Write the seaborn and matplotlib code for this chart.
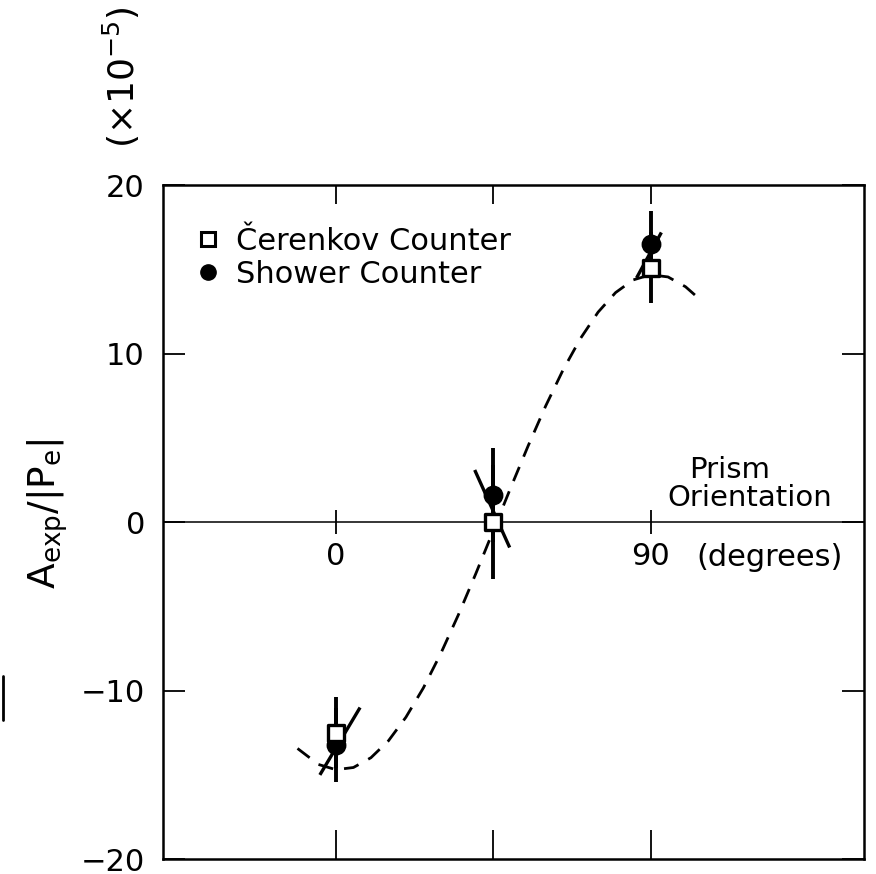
import matplotlib
matplotlib.use("Agg")
import matplotlib.pyplot as plt
from matplotlib.lines import Line2D
import seaborn as sns

# prism orientation (degrees) of the three runs
angles = [0, 45, 90]

# A_exp/|P_e| in units of 1e-5
cerenkov     = [-12.5, 0.0, 15.1]
cerenkov_err = [2.1, 3.4, 2.1]
shower       = [-13.2, 1.6, 16.5]
shower_err   = [2.2, 2.8, 2.0]

# slanted uncertainty bars through each pair of points (start / end)
slant_x0 = [-4.6, 39.7, 86.0]
slant_y0 = [-15.0, 3.1, 14.5]
slant_x1 = [6.9, 49.7, 93.1]
slant_y1 = [-11.0, -1.5, 17.2]

# dashed expectation curve
fit_angle = [-11, -5, 0, 5, 10, 15, 20, 25, 30, 35, 40, 45, 50, 55,
             60, 65, 70, 75, 80, 85, 90, 95, 100, 104]
fit_value = [-13.43, -14.38, -14.69, -14.56, -13.98, -12.98, -11.58,
             -9.84, -7.79, -5.51, -3.06, -0.51, 2.05, 4.54, 6.90, 9.05,
             10.92, 12.47, 13.63, 14.38, 14.69, 14.56, 13.98, 13.25]

x_ticks = [0, 45, 90]
x_tick_labels = ["0", "", "90"]
y_ticks = [-20, -10, 0, 10, 20]
y_tick_labels = ["\u221220", "\u221210", "0", "10", "20"]

sns.set_style("ticks")
plt.rcParams["font.family"] = ["DejaVu Sans"]
plt.rcParams["mathtext.default"] = "regular"
for key in ["text.color", "axes.labelcolor", "xtick.color",
            "ytick.color", "axes.edgecolor"]:
    plt.rcParams[key] = "black"

fig = plt.figure(figsize=(8.76, 8.74), dpi=100)
ax = fig.add_axes([0.186, 0.017, 0.800, 0.771])

sns.lineplot(x=fit_angle, y=fit_value, ax=ax, color="black",
             linewidth=2.0, linestyle=(0, (5.5, 4)), zorder=2)

ax.axhline(0, color="black", linewidth=1.1, zorder=1)

ax.errorbar(angles, cerenkov, yerr=cerenkov_err, fmt="none",
            ecolor="black", elinewidth=2.8, capsize=0, zorder=3)
ax.errorbar(angles, shower, yerr=shower_err, fmt="none",
            ecolor="black", elinewidth=2.8, capsize=0, zorder=3)
for xa, ya, xb, yb in zip(slant_x0, slant_y0, slant_x1, slant_y1):
    ax.plot([xa, xb], [ya, yb], color="black", linewidth=2.4,
            solid_capstyle="butt", zorder=3)

sns.scatterplot(x=angles, y=shower, ax=ax, marker="o", s=175,
                color="black", edgecolor="black", zorder=4)
sns.scatterplot(x=angles, y=cerenkov, ax=ax, marker="s", s=140,
                facecolor="white", edgecolor="black", linewidth=2.4,
                zorder=5)

ax.set_xlim(-49.5, 151)
ax.set_ylim(-20, 20)
ax.set_xticks(x_ticks)
ax.set_xticklabels([])
ax.set_yticks(y_ticks)
ax.set_yticklabels(y_tick_labels, fontsize=22)
ax.tick_params(axis="x", direction="in", length=21, width=1.3,
               top=False, bottom=True)
ax.tick_params(axis="y", direction="in", length=16, width=1.3,
               left=True, right=True, pad=13)
for sp in ax.spines.values():
    sp.set_linewidth(1.8)

# shorter ticks along the top edge
top_axis = ax.secondary_xaxis("top")
top_axis.set_xticks(x_ticks)
top_axis.set_xticklabels([])
top_axis.tick_params(direction="in", length=14, width=1.3)
top_axis.spines["top"].set_visible(False)

# the zero line doubles as the angle axis
zero_axis = ax.secondary_xaxis(0.4999)
zero_axis.set_xticks(x_ticks)
zero_axis.set_xticklabels(x_tick_labels, fontsize=22)
zero_axis.tick_params(direction="inout", length=17, width=1.3, pad=6)
zero_axis.spines["bottom"].set_visible(False)
zero_axis.spines["top"].set_visible(False)

ax.text(103, -2.08, "(degrees)", fontsize=22, ha="left", va="center")
ax.text(101, 3.1, "Prism", fontsize=21, ha="left", va="center")
ax.text(94.9, 1.42, "Orientation", fontsize=21, ha="left", va="center")

ax.set_ylabel("$A_{exp}/|P_e|$", fontsize=27)
ax.yaxis.set_label_coords(-0.133, 0.513)
fig.text(0.139, 0.912, "($\\times$10$^{-5}$)", fontsize=26,
         rotation=90, ha="center", va="center")

handles = [
    Line2D([], [], marker="s", linestyle="none", markersize=9.5,
           markerfacecolor="white", markeredgecolor="black",
           markeredgewidth=2.2),
    Line2D([], [], marker="o", linestyle="none", markersize=11,
           color="black"),
]
ax.legend(handles, ["Čerenkov Counter", "Shower Counter"],
          loc="upper left", bbox_to_anchor=(0.012, 0.97), frameon=False,
          fontsize=22, handlelength=1.0, handletextpad=0.4,
          labelspacing=0.12, borderaxespad=0.3)

# small stray mark at the left edge of the scan
fig.add_artist(Line2D([0.003, 0.003], [0.176, 0.226], color="black",
                      linewidth=2.0))

fig.savefig("out.png", dpi=100)
